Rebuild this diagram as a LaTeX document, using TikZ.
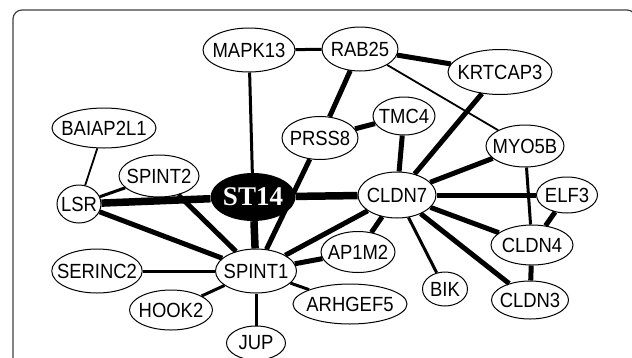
\documentclass[tikz,border=0pt]{standalone}
\usepackage{fontspec}
\setmainfont{Liberation Sans}
\newfontfamily\genefont[FakeStretch=0.9]{Liberation Sans}
\newfontfamily\hubfont{Liberation Serif}
\usetikzlibrary{shapes.geometric}
\begin{document}
\begin{tikzpicture}[x=1pt, y=-1pt,
	gene/.style={draw, ellipse, fill=white, line width=1pt, inner sep=-8pt, minimum height=40pt, font=\genefont\fontsize{20.5}{22}\selectfont},
	hub/.style={ellipse, fill=black, text=white, inner sep=0pt, minimum width=84pt, minimum height=48pt, font=\hubfont\bfseries\fontsize{27}{30}\selectfont},
	weak/.style={line width=1.8pt},
	mid/.style={line width=3pt},
	strong/.style={line width=5pt},
	heavy/.style={line width=7.5pt}]
	\useasboundingbox (0,0) rectangle (632,357);
	\clip (0,0) rectangle (632,357);
	
	% 1. frame
	\draw[line width=1.2pt, black!75, rounded corners=9pt] (13,10) rectangle (636,390);
	
	% 2. genes
	\node[hub] (st14) at (253,197) {ST14};
	\node[gene, minimum width=92pt, minimum height=44pt] (mapk) at (249,50) {MAPK13};
	\node[gene, minimum width=76pt, minimum height=44pt] (rab) at (360,49) {RAB25};
	\node[gene, minimum width=104pt, minimum height=45pt] (krtcap) at (500,72) {KRTCAP3};
	\node[gene, minimum width=62pt, minimum height=38pt] (tmc) at (404,116) {TMC4};
	\node[gene, minimum width=76pt, minimum height=43pt] (prss) at (320,138) {PRSS8};
	\node[gene, minimum width=78pt, minimum height=42pt] (myo) at (525,146) {MYO5B};
	\node[gene, minimum width=104pt] (baiap) at (104,128) {BAIAP2L1};
	\node[gene, minimum width=80pt, minimum height=42pt] (spint2) at (159,176) {SPINT2};
	\node[gene, minimum width=44pt, minimum height=38pt] (lsr) at (79,204) {LSR};
	\node[gene, minimum width=78pt, minimum height=46pt] (cldn7) at (397,195) {CLDN7};
	\node[gene, minimum width=61pt, minimum height=36pt] (elf) at (567,195) {ELF3};
	\node[gene, minimum width=88pt, minimum height=44pt] (serinc) at (97,271) {SERINC2};
	\node[gene, minimum width=81pt, minimum height=44pt] (spint1) at (256,271) {SPINT1};
	\node[gene, minimum width=82pt] (cldn4) at (532,245) {CLDN4};
	\node[gene, minimum width=74pt, minimum height=41pt] (ap1m) at (358,252) {AP1M2};
	\node[gene, minimum width=45pt, minimum height=34pt] (bik) at (445,289) {BIK};
	\node[gene, minimum width=77pt, minimum height=38pt] (cldn3) at (530,300) {CLDN3};
	\node[gene, minimum width=114pt] (arhgef) at (350,304) {ARHGEF5};
	\node[gene, minimum width=83pt] (hook) at (171,310) {HOOK2};
	\node[gene, minimum width=59pt, minimum height=34pt] (jup) at (256,343) {JUP};
	
	% 3. links
	\draw[weak] (rab) -- (myo);
	\draw[weak] (baiap) -- (lsr);
	\draw[mid] (mapk) -- (rab);
	\draw[mid] (mapk) -- (st14);
	\draw[mid] (myo) -- (cldn4);
	\draw[mid] (lsr) -- (spint2);
	\draw[mid] (cldn7) -- (bik);
	\draw[mid] (spint1) -- (serinc);
	\draw[mid] (spint1) -- (hook);
	\draw[mid] (spint1) -- (jup);
	\draw[mid] (spint1) -- (arhgef);
	\draw[strong] (rab) -- (krtcap);
	\draw[strong] (rab) -- (prss);
	\draw[strong] (krtcap) -- (cldn7);
	\draw[strong] (prss) -- (tmc);
	\draw[strong] (prss) -- (spint1);
	\draw[strong] (tmc) -- (cldn7);
	\draw[strong] (myo) -- (cldn7);
	\draw[strong] (lsr) -- (spint1);
	\draw[strong] (spint2) -- (spint1);
	\draw[strong] (cldn7) -- (spint1);
	\draw[strong] (spint1) -- (ap1m);
	\draw[strong] (cldn7) -- (ap1m);
	\draw[strong] (cldn7) -- (cldn4);
	\draw[strong] (cldn7) -- (cldn3);
	\draw[strong] (cldn7) -- (elf);
	\draw[strong] (elf) -- (cldn4);
	\draw[strong] (cldn4) -- (cldn3);
	\draw[heavy] (lsr) -- (st14);
	\draw[heavy] (st14) -- (cldn7);
	\draw[heavy] (st14) -- (spint1);
\end{tikzpicture}
\end{document}
